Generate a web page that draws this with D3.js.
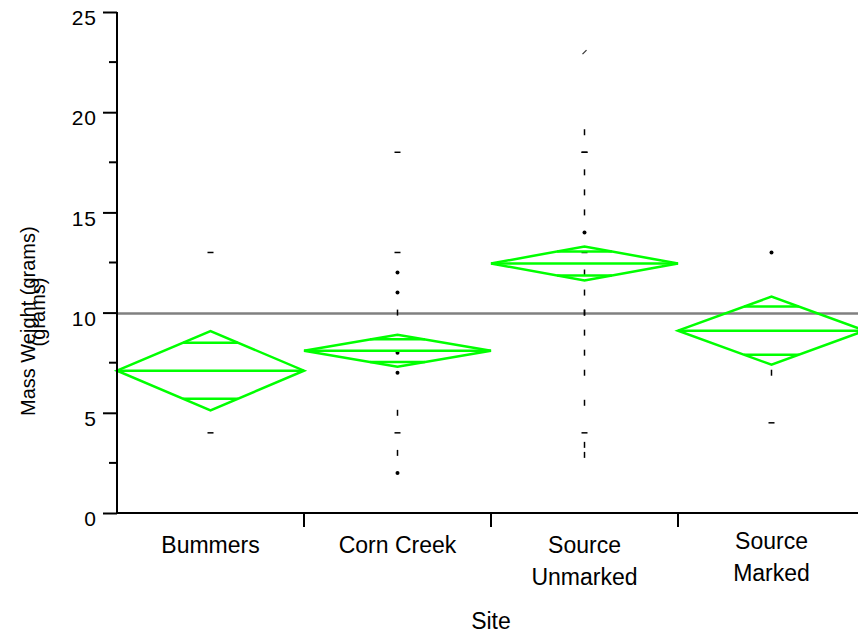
<!DOCTYPE html>
<html>
<head>
<meta charset="utf-8">
<script src="https://cdnjs.cloudflare.com/ajax/libs/d3/7.8.5/d3.min.js"></script>
<style>
  body { margin: 0; background: #fff; }
  svg { display: block; font-family: "Liberation Sans", Arial, sans-serif; }
</style>
</head>
<body>
<div></div>
<script>
// groups along the x axis
const sites = ['Bummers', 'Corn Creek', 'Source Unmarked', 'Source Marked'];
const siteLabels = [['Bummers'], ['Corn  Creek'], ['Source', 'Unmarked'], ['Source', 'Marked']];

// individual weights (grams)
const bummersPts = [13, 4];
const cornCreekPts = [18, 13, 12, 11, 10, 8, 7, 5, 4, 3, 2];
const unmarkedPts = [23, 19, 18, 18, 17, 16, 15, 14, 13, 12, 11, 10, 10, 9, 8, 7, 5.5, 4, 3.4, 2.9];
const markedPts = [13, 7, 4.5];

// means diamonds: group mean and 95% half-width
const groupMeans = [7.1, 8.1, 12.45, 9.1];
const groupCI = [1.98, 0.8, 0.85, 1.7];
const grandMean = 9.95;

const yTicks = [0, 5, 10, 15, 20, 25];
const yMinorTicks = [2.5, 7.5, 12.5, 17.5, 22.5];

// point glyphs as they show up in the picture
const glyphs = [
    ['-', '-'],
    ['-', '-', 'o', 'o', '|', 'o', 'o', '|', '-', '|', 'o'],
    ['/', '|', '-', '-', '|', '|', '|', 'o', '-', '|', '|', '|', '|', '|', '|', '|', '|', '-', '|', '|'],
    ['o', '|', '-']
];

const allPts = [bummersPts, cornCreekPts, unmarkedPts, markedPts];

const svgWidth = 858,
    svgHeight = 640;

const svg = d3.select('body')
    .select('div')
    .append('svg')
    .attr('width', svgWidth)
    .attr('height', svgHeight);

const xScale = d3.scaleBand()
    .domain(sites)
    .range([117, 865])
    .padding(0);

const yScale = d3.scaleLinear()
    .domain([0, 25])
    .range([513, 12]);

const green = '#00ff00';

// grand mean line
svg.append('line')
    .attr('x1', xScale.range()[0])
    .attr('x2', svgWidth)
    .attr('y1', yScale(grandMean))
    .attr('y2', yScale(grandMean))
    .attr('stroke', '#808080')
    .attr('stroke-width', 2.5);

// data points
allPts.forEach((pts, gi) => {
    const cx = xScale(sites[gi]) + xScale.bandwidth() / 2;
    const g = svg.append('g').attr('class', 'points');
    pts.forEach((v, i) => {
        const y = yScale(v);
        const kind = glyphs[gi][i];
        if (kind === 'o') {
            g.append('circle').attr('cx', cx).attr('cy', y).attr('r', 2).attr('fill', '#000');
        } else if (kind === '-') {
            g.append('line').attr('x1', cx - 3).attr('x2', cx + 3).attr('y1', y).attr('y2', y)
                .attr('stroke', '#000').attr('stroke-width', 1.5);
        } else if (kind === '/') {
            g.append('line').attr('x1', cx - 2).attr('x2', cx + 2).attr('y1', y + 2).attr('y2', y - 2)
                .attr('stroke', '#333').attr('stroke-width', 1.2);
        } else {
            g.append('line').attr('x1', cx).attr('x2', cx).attr('y1', y - 3).attr('y2', y + 3)
                .attr('stroke', '#000').attr('stroke-width', 1.5);
        }
    });
});

// means diamonds with overlap marks
sites.forEach((s, i) => {
    const x0 = xScale(s),
        x1 = x0 + xScale.bandwidth(),
        xm = (x0 + x1) / 2,
        m = groupMeans[i],
        c = groupCI[i];
    const g = svg.append('g').attr('class', 'diamond')
        .attr('fill', 'none')
        .attr('stroke', green)
        .attr('stroke-width', 2.5);
    g.append('path')
        .attr('d', `M${x0},${yScale(m)}L${xm},${yScale(m + c)}L${x1},${yScale(m)}L${xm},${yScale(m - c)}Z`);
    g.append('line')
        .attr('x1', x0).attr('x2', x1)
        .attr('y1', yScale(m)).attr('y2', yScale(m));
    const k = Math.SQRT1_2,
        hw = (1 - k) * xScale.bandwidth() / 2;
    [m + c * k, m - c * k].forEach(v => {
        g.append('line')
            .attr('x1', xm - hw).attr('x2', xm + hw)
            .attr('y1', yScale(v)).attr('y2', yScale(v));
    });
});

// y axis
const yAxis = d3.axisLeft(yScale)
    .tickValues(yTicks)
    .tickSize(14)
    .tickPadding(6)
    .tickFormat(d3.format('d'));

const yG = svg.append('g')
    .attr('id', 'y-axis')
    .attr('transform', 'translate(117, 0)')
    .call(yAxis);

yG.append('g')
    .selectAll('line')
    .data(yMinorTicks)
    .enter()
    .append('line')
    .attr('x1', -8)
    .attr('x2', 0)
    .attr('y1', d => yScale(d))
    .attr('y2', d => yScale(d))
    .attr('stroke', '#000')
    .attr('stroke-width', 2);

yG.select('.domain').remove();
yG.append('line')
    .attr('x1', 0).attr('x2', 0)
    .attr('y1', yScale(25)).attr('y2', yScale(0))
    .attr('stroke', '#000')
    .attr('stroke-width', 2);
yG.selectAll('.tick line').attr('stroke-width', 2);
yG.selectAll('.tick text')
    .attr('font-size', 21)
    .attr('font-family', '"Liberation Sans", Arial, sans-serif')
    .attr('letter-spacing', 1)
    .attr('dy', '0.6em')
    .attr('fill', '#000');

// x axis
const xG = svg.append('g').attr('id', 'x-axis');
xG.append('line')
    .attr('x1', 117).attr('x2', svgWidth)
    .attr('y1', 513).attr('y2', 513)
    .attr('stroke', '#000')
    .attr('stroke-width', 2);
xG.selectAll('.sep')
    .data(sites.slice(1))
    .enter()
    .append('line')
    .attr('class', 'sep')
    .attr('x1', d => xScale(d)).attr('x2', d => xScale(d))
    .attr('y1', 513).attr('y2', 527)
    .attr('stroke', '#000')
    .attr('stroke-width', 2);

siteLabels.forEach((lines, i) => {
    const cx = xScale(sites[i]) + xScale.bandwidth() / 2;
    const top = lines.length > 1 && i === 3 ? 549 : 553;
    const t = xG.append('text')
        .attr('x', cx)
        .attr('y', top)
        .attr('text-anchor', 'middle')
        .attr('font-size', 23)
        .attr('fill', '#000');
    lines.forEach((l, j) => {
        t.append('tspan').attr('x', cx).attr('dy', j === 0 ? 0 : 32).text(l);
    });
});

// axis titles
svg.append('text')
    .attr('x', 491)
    .attr('y', 629)
    .attr('text-anchor', 'middle')
    .attr('font-size', 23)
    .text('Site');

svg.append('text')
    .attr('transform', 'translate(35, 416) rotate(-90)')
    .attr('text-anchor', 'start')
    .attr('font-size', 20)
    .text('Mass Weight (grams)');

svg.append('text')
    .attr('transform', 'translate(45, 312) rotate(-90)')
    .attr('text-anchor', 'middle')
    .attr('font-size', 20)
    .text('(grams)');
</script>
</body>
</html>
